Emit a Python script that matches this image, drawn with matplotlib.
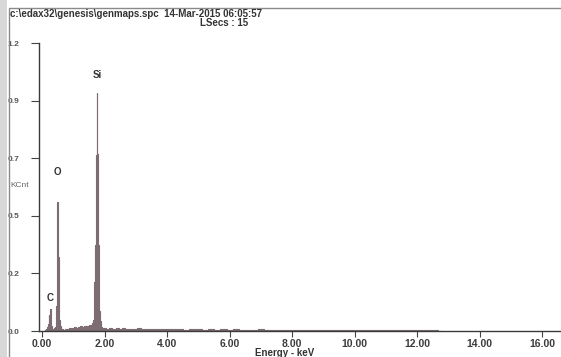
import matplotlib
matplotlib.use("Agg")
import matplotlib.pyplot as plt
from matplotlib.patches import Rectangle
import numpy as np

# ---- data ----
energy_low = [0.10, 0.14, 0.16, 0.18, 0.20, 0.22, 0.24, 0.26, 0.28, 0.30, 0.32, 0.34, 0.36, 0.38,
              0.40, 0.42, 0.44, 0.46, 0.48, 0.50, 0.52, 0.54, 0.56, 0.58, 0.60, 0.62]
counts_low = [0.004, 0.008, 0.010, 0.015, 0.030, 0.066, 0.030, 0.088, 0.045, 0.020, 0.012, 0.010, 0.009, 0.010,
              0.012, 0.016, 0.030, 0.100, 0.210, 0.525, 0.300, 0.120, 0.045, 0.020, 0.012, 0.010]

energy_mid = [0.66, 0.70, 0.76, 0.82, 0.88, 0.94, 1.00, 1.06, 1.12, 1.18, 1.24, 1.30, 1.36, 1.42,
              1.48, 1.54, 1.58]
counts_mid = [0.008, 0.006, 0.010, 0.008, 0.012, 0.010, 0.014, 0.016, 0.014, 0.018, 0.020, 0.017, 0.021, 0.022,
              0.020, 0.024, 0.026]

energy_si = [1.60, 1.62, 1.64, 1.66, 1.68, 1.70, 1.72, 1.74, 1.76, 1.78, 1.80, 1.82, 1.84, 1.86, 1.88, 1.90, 1.92]
counts_si = [0.030, 0.034, 0.045, 0.080, 0.200, 0.350, 0.550, 0.715, 0.965, 0.720, 0.350, 0.200, 0.080, 0.040,
             0.025, 0.018, 0.014]

energy_high = [2.0, 2.1, 2.2, 2.3, 2.4, 2.5, 2.6, 2.7, 2.8, 2.9, 3.0, 3.1, 3.2, 3.3, 3.4, 3.5, 3.6, 3.7, 3.8, 3.9,
               4.0, 4.2, 4.4, 4.6, 4.8, 5.0, 5.2, 5.4, 5.6, 5.8, 6.0, 6.2, 6.4, 6.6, 6.8, 7.0, 7.2, 7.4, 7.6, 7.8,
               8.0, 8.3, 8.6, 8.9, 9.2, 9.5, 9.8, 10.1, 10.4, 10.7, 11.0, 11.3, 11.6, 11.9, 12.2, 12.5, 12.8]
counts_high = [0.012, 0.010, 0.013, 0.009, 0.011, 0.008, 0.012, 0.009, 0.010, 0.008, 0.009, 0.011, 0.008, 0.009,
               0.007, 0.010, 0.008, 0.009, 0.007, 0.008, 0.009, 0.007, 0.008, 0.006, 0.008, 0.007, 0.006, 0.008,
               0.006, 0.007, 0.006, 0.007, 0.006, 0.006, 0.005, 0.007, 0.005, 0.006, 0.005, 0.006, 0.006, 0.005,
               0.005, 0.006, 0.005, 0.005, 0.005, 0.005, 0.004, 0.005, 0.004, 0.004, 0.004, 0.004, 0.003, 0.003,
               0.002]

peak_names = ["C", "O", "Si"]
peak_energy = [0.26, 0.50, 1.76]
peak_label_y = [0.135, 0.645, 1.04]

ytick_labels = ["0.0", "0.2", "0.5", "0.7", "0.9", "1.2"]
xtick_values = [0, 2, 4, 6, 8, 10, 12, 14, 16]
title_line1 = "c:\\edax32\\genesis\\genmaps.spc  14-Mar-2015 06:05:57"
title_line2 = "LSecs : 15"

energy = np.array(energy_low + energy_mid + energy_si + energy_high)
counts = np.array(counts_low + counts_mid + counts_si + counts_high)

# ---- figure ----
W, H = 561, 357
fig = plt.figure(figsize=(W / 100, H / 100), dpi=100)
fig.patch.set_facecolor("white")
plt.rcParams["font.family"] = ["Liberation Sans", "DejaVu Sans"]

# scanned page edge + frame
fig.patches.append(Rectangle((0, 0), 7 / W, 1, transform=fig.transFigure, facecolor="#d8d8d8",
                             edgecolor="none", zorder=0))
fig.patches.append(Rectangle((9 / W, -0.01), 1.0, 1 - 8 / H + 0.01, transform=fig.transFigure,
                             facecolor="none", edgecolor="#8a8a8a", lw=1.0, zorder=0))

left, right, bottom, top = 39, 561, 331, 43
ax = fig.add_axes([left / W, 1 - bottom / H, (right - left) / W, (bottom - top) / H])
ax.set_facecolor("none")

spec_color = "#7d6c74"
ax.fill_between(energy, counts, step="mid", color=spec_color, lw=0)
ax.step(energy, counts, where="mid", color=spec_color, lw=0.8)

ax.set_xlim(-0.10, 16.60)
ax.set_ylim(0, 1.17)

for name, ex, ly in zip(peak_names, peak_energy, peak_label_y):
    ax.text(ex, ly, name, ha="center", va="center", fontsize=7, fontweight="bold", color="#333333")

ax.set_xticks(xtick_values)
ax.set_xticklabels([f"{v:.2f}" for v in xtick_values], fontsize=7.5, fontweight="bold", color="#3c3c3c")
ax.set_yticks(np.linspace(0, 1.17, len(ytick_labels)))
ax.set_yticklabels(ytick_labels, fontsize=6, fontweight="bold", color="#555555")
ax.tick_params(axis="both", direction="out", length=4, width=0.8, color="#444444", pad=1.5)
ax.tick_params(axis="y", length=6, pad=8)

for s in ["top", "right"]:
    ax.spines[s].set_visible(False)
for s in ["left", "bottom"]:
    ax.spines[s].set_color("#3a3a3a")
    ax.spines[s].set_linewidth(1.0)

fig.text(10 / W, 1 - 14 / H, title_line1, ha="left", va="center", fontsize=7, fontweight="bold",
         color="#333333")
fig.text(224 / W, 1 - 23 / H, title_line2, ha="center", va="center", fontsize=7, fontweight="bold",
         color="#333333")
fig.text(20 / W, 1 - 185 / H, "KCnt", ha="center", va="center", fontsize=6, color="#666666")
fig.text(285 / W, 1 - 353 / H, "Energy - keV", ha="center", va="center", fontsize=7, fontweight="bold",
         color="#333333")

fig.savefig("out.png", dpi=100)
